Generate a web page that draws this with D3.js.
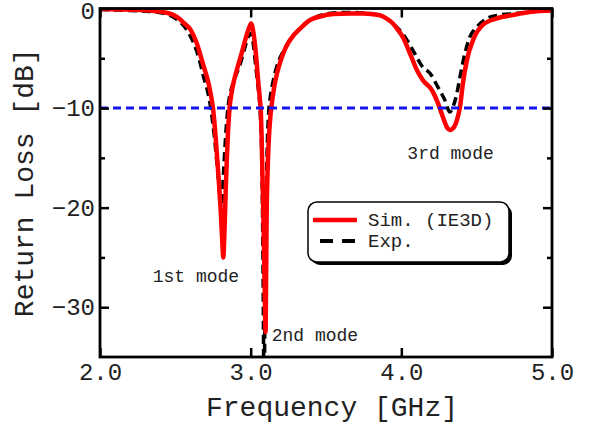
<!DOCTYPE html>
<html>
<head>
<meta charset="utf-8">
<script src="https://cdnjs.cloudflare.com/ajax/libs/d3/7.8.5/d3.min.js"></script>
<style>
body { margin: 0; background: white; }
text { font-family: "Courier New", "Liberation Mono", monospace; fill: #222; }
</style>
</head>
<body>
<div id="chart"></div>
<script>
//Set dimensions of svg
var w=590;
var h=428;
var margin={left:100, right:38, top:8.5, bottom:71};

//Simulated return loss (IE3D), frequency in GHz and value in dB
var simFreq=[2.00,2.20,2.33,2.45,2.51,2.56,2.60,2.64,2.665,2.69,2.717,2.735,2.75,2.768,2.785,2.80,2.811,2.818,2.826,2.834,2.842,2.85,2.86,2.872,2.89,2.915,2.94,2.965,2.988,3.003,3.018,3.035,3.05,3.062,3.068,3.073,3.077,3.086,3.094,3.099,3.102,3.106,3.112,3.12,3.13,3.14,3.155,3.175,3.20,3.23,3.29,3.33,3.39,3.46,3.55,3.66,3.75,3.80,3.86,3.90,3.944,3.98,4.011,4.057,4.104,4.143,4.203,4.243,4.276,4.305,4.322,4.345,4.369,4.389,4.409,4.435,4.475,4.541,4.634,4.741,4.85,5.00];
var simLoss=[-0.05,-0.12,-0.2,-0.45,-0.85,-1.5,-2.1,-3.4,-4.6,-5.9,-7.3,-8.6,-10,-13,-16.5,-20,-23.2,-25,-22.5,-18.5,-15,-12.3,-10,-8.6,-7.2,-5.8,-4.5,-3.1,-2.0,-1.5,-2.4,-4.6,-7.3,-9.3,-10.5,-13,-16,-22,-29,-32.5,-28,-21,-16.5,-13.3,-11,-9.6,-8,-6.5,-5.2,-4.0,-2.6,-2.0,-1.2,-0.8,-0.55,-0.5,-0.5,-0.55,-0.7,-1.0,-1.5,-2.2,-2.9,-4.5,-6.2,-7.2,-8.2,-9.5,-10.9,-12.0,-12.2,-12.0,-11.2,-9.9,-7.5,-5.2,-3.2,-1.65,-1.0,-0.65,-0.35,-0.2];

//Measured return loss
var expFreq=[2.00,2.20,2.33,2.45,2.51,2.56,2.59,2.64,2.66,2.69,2.717,2.735,2.76,2.785,2.805,2.82,2.833,2.845,2.858,2.875,2.90,2.93,2.96,2.985,2.998,3.015,3.035,3.05,3.062,3.075,3.083,3.089,3.095,3.10,3.106,3.112,3.12,3.13,3.145,3.17,3.22,3.29,3.39,3.46,3.55,3.66,3.75,3.86,3.944,4.024,4.077,4.143,4.19,4.243,4.289,4.322,4.345,4.369,4.389,4.422,4.455,4.502,4.568,4.654,4.75,4.85,5.00];
var expLoss=[-0.1,-0.2,-0.3,-0.6,-1.1,-1.8,-2.5,-4.2,-5.2,-7.0,-8.5,-10,-13,-17,-20,-16.5,-13,-10.6,-9,-7.9,-6.8,-5.6,-4.0,-2.8,-2.5,-3.3,-6.0,-8.0,-10,-16,-28,-40,-29,-22,-16.5,-12.8,-10.3,-8.9,-7.6,-6,-4.2,-2.6,-1.2,-0.7,-0.45,-0.4,-0.45,-0.7,-1.5,-2.85,-4.2,-5.9,-6.5,-7.9,-9.2,-10.4,-9.8,-8.5,-6.9,-4.5,-2.85,-1.85,-1.0,-0.65,-0.5,-0.35,-0.2];

//-10 dB reference level
var refLevel=-10;

//Axis ticks
var xTicks=[2.0,3.0,4.0,5.0];
var yMajor=[0,-10,-20,-30];
var yMinor=[-5,-15,-25];

//Mode labels
var modeNames=["1st mode","2nd mode","3rd mode"];
var modeFreq=[2.35,3.14,4.04];
var modeLoss=[-27.5,-33.4,-15.1];

//Legend entries
var legendNames=["Sim. (IE3D)","Exp."];

var simData=simFreq.map(function(f,i) {return {f:f, v:simLoss[i]};});
var expData=expFreq.map(function(f,i) {return {f:f, v:expLoss[i]};});

var x=d3.scaleLinear().domain([2,5]).range([margin.left,w-margin.right]);
var y=d3.scaleLinear().domain([-35,0]).range([h-margin.bottom,margin.top]);

var svg=d3.select("#chart")
          .append("svg")
          .attr("width",w)
          .attr("height",h);

svg.append("defs")
   .append("clipPath")
   .attr("id","plot-clip")
   .append("rect")
   .attr("x",x(2))
   .attr("y",y(0))
   .attr("width",x(5)-x(2))
   .attr("height",y(-35)-y(0));

var line=d3.line()
           .x(function(d) {return x(d.f);})
           .y(function(d) {return y(d.v);})
           .curve(d3.curveMonotoneX);

var plot=svg.append("g").attr("clip-path","url(#plot-clip)");

//Measured curve
plot.append("path")
    .datum(expData)
    .attr("d",line)
    .style("fill","none")
    .style("stroke","black")
    .style("stroke-width",3.5)
    .style("stroke-dasharray","9,5");

//Simulated curve
plot.append("path")
    .datum(simData)
    .attr("d",line)
    .style("fill","none")
    .style("stroke","#ff0000")
    .style("stroke-width",4.5)
    .style("stroke-linejoin","round");

//-10 dB line
plot.append("line")
    .attr("x1",x(2))
    .attr("x2",x(5))
    .attr("y1",y(refLevel))
    .attr("y2",y(refLevel))
    .style("stroke","#1414f0")
    .style("stroke-width",3)
    .style("stroke-dasharray","8,5");

//Axes with inward ticks
svg.append("g")
   .attr("transform","translate("+x(2)+",0)")
   .call(d3.axisLeft(y).tickValues(yMajor).tickSize(-9).tickPadding(5).tickFormat(d3.format("d")))
   .attr("class","axis yaxis");
svg.append("g")
   .attr("transform","translate("+x(2)+",0)")
   .call(d3.axisLeft(y).tickValues(yMinor).tickSize(-5).tickFormat(""))
   .attr("class","axis");
svg.append("g")
   .attr("transform","translate("+x(5)+",0)")
   .call(d3.axisRight(y).tickValues(yMajor).tickSize(-9).tickFormat(""))
   .attr("class","axis");
svg.append("g")
   .attr("transform","translate("+x(5)+",0)")
   .call(d3.axisRight(y).tickValues(yMinor).tickSize(-5).tickFormat(""))
   .attr("class","axis");
svg.append("g")
   .attr("transform","translate(0,"+y(-35)+")")
   .call(d3.axisBottom(x).tickValues(xTicks).tickSize(-9).tickPadding(6).tickFormat(d3.format(".1f")))
   .attr("class","axis xaxis");
svg.append("g")
   .attr("transform","translate(0,"+y(0)+")")
   .call(d3.axisTop(x).tickValues(xTicks).tickSize(-9).tickFormat(""))
   .attr("class","axis");

svg.selectAll(".axis .domain").remove();
svg.selectAll(".axis line").style("stroke","black").style("stroke-width",2.5);
svg.selectAll(".axis text")
   .style("font-family","'Courier New','Liberation Mono',monospace")
   .style("font-size","24px")
   .style("fill","#222");
//Keep the top "0" label inside the page
svg.selectAll(".yaxis .tick text")
   .filter(function(d) {return d===0;})
   .attr("dy","0.42em");

//Frame
svg.append("rect")
   .attr("x",x(2))
   .attr("y",y(0))
   .attr("width",x(5)-x(2))
   .attr("height",y(-35)-y(0))
   .style("fill","none")
   .style("stroke","black")
   .style("stroke-width",2.8);

//Axis titles
svg.append("text")
   .text("Frequency [GHz]")
   .attr("x",332)
   .attr("y",416)
   .attr("text-anchor","middle")
   .style("font-size","28px");
svg.append("text")
   .text("Return Loss [dB]")
   .attr("transform","translate(33,"+((y(0)+y(-35))/2)+") rotate(-90)")
   .attr("text-anchor","middle")
   .style("font-size","28px");

//Mode labels
svg.selectAll(".mode")
   .data(modeNames)
   .enter()
   .append("text")
   .attr("class","mode")
   .text(function(d) {return d;})
   .attr("x",function(d,i) {return x(modeFreq[i]);})
   .attr("y",function(d,i) {return y(modeLoss[i]);})
   .style("font-size","18px");

//Legend
var lx=308, ly=202, lw=201, lh=60;
svg.append("rect")
   .attr("x",lx+3)
   .attr("y",ly+3)
   .attr("width",lw)
   .attr("height",lh)
   .attr("rx",9)
   .style("fill","black");
svg.append("rect")
   .attr("x",lx)
   .attr("y",ly)
   .attr("width",lw)
   .attr("height",lh)
   .attr("rx",9)
   .style("fill","white")
   .style("stroke","black")
   .style("stroke-width",1.5);
svg.append("line")
   .attr("x1",lx+5)
   .attr("x2",lx+49)
   .attr("y1",ly+18)
   .attr("y2",ly+18)
   .style("stroke","#ff0000")
   .style("stroke-width",4.5);
svg.append("line")
   .attr("x1",lx+12)
   .attr("x2",lx+49)
   .attr("y1",ly+39)
   .attr("y2",ly+39)
   .style("stroke","black")
   .style("stroke-width",4)
   .style("stroke-dasharray","13,9");
svg.selectAll(".legend-text")
   .data(legendNames)
   .enter()
   .append("text")
   .attr("class","legend-text")
   .text(function(d) {return d;})
   .attr("x",lx+60)
   .attr("y",function(d,i) {return ly+24+i*21;})
   .style("font-size","19px");
</script>
</body>
</html>
